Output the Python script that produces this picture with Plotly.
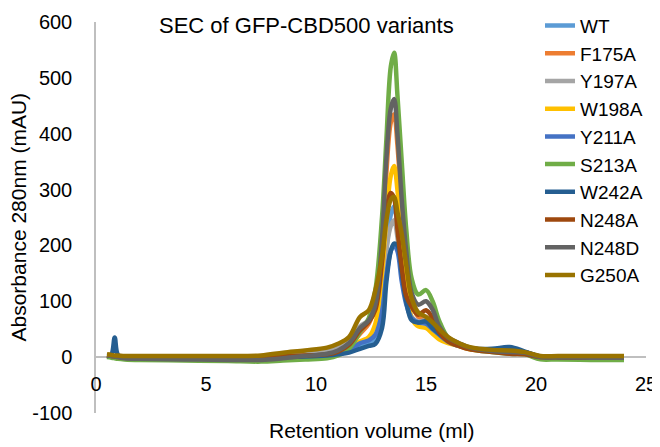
import plotly.graph_objects as go

# Retention volume (ml) sampling points shared by all series
x_ml = [0.5, 0.7, 0.85, 1.0, 1.3, 2, 4, 6, 7.5, 8.5, 9.5, 10.5, 11.0, 11.5, 12.0, 12.4, 12.7,
        13.0, 13.2, 13.4, 13.55, 13.7, 13.9, 14.1, 14.35, 14.65, 15.0, 15.3, 15.6, 16.0,
        16.5, 17.0, 18.0, 18.8, 19.5, 20.2, 21.0, 22.5, 24.0]

WT = [2, 1, 0, -1, -2, -2, -3, -3, -3, -1, 1, 4, 7, 11, 20, 25, 35, 110, 190, 255, 270, 235,
      160, 110, 70, 62, 60, 50, 40, 28, 20, 15, 12, 15, 9, 1, 0, -1, -1]
F175A = [3, 2, 1, 0, -1, -2, -3, -3, -2, 0, 3, 7, 11, 18, 42, 60, 95, 190, 330, 420, 435, 380,
         270, 180, 100, 72, 68, 55, 42, 30, 22, 15, 11, 9, 8, 0, 0, -1, -1]
Y197A = [3, 2, 1, 0, -1, -1, -1, -1, 0, 4, 8, 12, 17, 28, 55, 66, 85, 140, 195, 235, 245, 215,
         150, 110, 72, 64, 66, 55, 42, 30, 22, 16, 12, 10, 9, 1, 1, 0, 0]
W198A = [2, 1, 0, -1, -2, -2, -3, -3, -2, 0, 2, 5, 9, 15, 28, 36, 60, 150, 250, 325, 342, 300,
         200, 130, 70, 55, 52, 42, 32, 25, 20, 14, 11, 9, 8, 0, 0, -1, -1]
Y211A = [2, 1, 0, -1, -2, -2, -3, -3, -2, 0, 2, 5, 8, 12, 25, 30, 40, 80, 145, 190, 200, 190,
         135, 95, 70, 62, 60, 50, 40, 28, 20, 15, 12, 12, 9, 1, 0, -1, -1]
S213A = [0, -1, -2, -3, -4, -5, -6, -7, -8, -6, -4, -2, 3, 15, 45, 70, 120, 250, 390, 520, 545,
         470, 348, 230, 140, 112, 120, 100, 65, 35, 24, 15, 9, 6, 5, -4, -4, -5, -5]
W242A = [2, 5, 35, 4, 0, -1, -2, -2, -2, 0, 1, 3, 5, 8, 15, 20, 24, 52, 135, 190, 203, 200,
         150, 100, 66, 62, 64, 52, 42, 30, 22, 16, 15, 18, 10, 1, 0, -1, -1]
N248A = [3, 2, 1, 0, -1, -2, -2, -2, -1, 2, 3, 5, 10, 22, 48, 63, 85, 170, 260, 294, 285, 230,
         160, 110, 90, 76, 84, 70, 45, 28, 20, 14, 9, 6, 5, 0, 0, -1, -1]
N248D = [3, 2, 1, 0, -2, -3, -4, -5, -5, -2, 2, 6, 12, 25, 52, 66, 95, 210, 355, 445, 462, 400,
         280, 190, 115, 94, 100, 85, 55, 35, 25, 17, 11, 9, 8, 0, 0, -1, -1]
G250A = [5, 4, 3, 3, 2, 2, 2, 2, 3, 8, 12, 17, 24, 36, 72, 84, 120, 180, 245, 282, 287, 260,
         220, 165, 105, 80, 72, 62, 50, 36, 25, 18, 13, 12, 9, 2, 2, 2, 2]

names = ["WT", "F175A", "Y197A", "W198A", "Y211A", "S213A", "W242A", "N248A", "N248D", "G250A"]
values = [WT, F175A, Y197A, W198A, Y211A, S213A, W242A, N248A, N248D, G250A]
colors = ["#5B9BD5", "#ED7D31", "#A5A5A5", "#FFC000", "#4472C4", "#70AD47", "#255E91",
          "#9E480E", "#636363", "#997300"]

y_ticks = [-100, 0, 100, 200, 300, 400, 500, 600]
y_tick_text = ["-100", "0", "100", "200", "300", "400", "500", "600"]
x_ticks = [0, 5, 10, 15, 20, 25]

FONT = "Liberation Sans, Arial, sans-serif"

# The page body has an 8px default margin; the figure is sized so the plot area lands
# at x 96..646 and y 22..413 in the 660x447 window.
W, H = 652, 439
fig = go.Figure()
for n, v, c in zip(names, values, colors):
    fig.add_trace(go.Scatter(x=x_ml, y=v, mode="lines", name=n,
                             line=dict(color=c, width=4.5, shape="spline", smoothing=1.0)))

fig.update_layout(
    width=W, height=H,
    margin=dict(l=88, r=14, t=14, b=34, autoexpand=False),
    paper_bgcolor="white", plot_bgcolor="white",
    font=dict(family=FONT, size=20, color="#000000"),
    showlegend=True,
    legend=dict(x=(540 - 96) / 550, xanchor="left", y=1.039, yanchor="top",
                font=dict(size=19), bgcolor="rgba(0,0,0,0)", itemwidth=30,
                tracegroupgap=0, maxheight=1.0),
    xaxis=dict(range=[0, 25], tickvals=x_ticks, showgrid=False, zeroline=False,
               showline=True, linecolor="#BFBFBF", linewidth=1.5,
               anchor="free", position=1/7, layer="below traces", automargin=False,
               ticks="", ticklabelstandoff=9, tickfont=dict(size=20)),
    yaxis=dict(range=[-100, 600], tickvals=y_ticks, ticktext=y_tick_text, showgrid=False,
               zeroline=False, automargin=False,
               showline=True, linecolor="#BFBFBF", linewidth=1.5, layer="below traces",
               ticks="", ticklabelstandoff=18, tickfont=dict(size=20)),
    annotations=[
        dict(text="SEC of GFP-CBD500 variants", xref="paper", yref="paper",
             x=(306 - 96) / 550, y=(413 - 25) / 391, xanchor="center", yanchor="middle",
             showarrow=False, font=dict(size=22)),
        dict(text="Retention volume (ml)", xref="paper", yref="paper",
             x=0.5, y=-(431 - 413) / 391, xanchor="center", yanchor="middle",
             showarrow=False, font=dict(size=21)),
        dict(text="Absorbance 280nm (mAU)", xref="paper", yref="paper",
             x=(18 - 96) / 550, y=0.5, xanchor="center", yanchor="middle",
             textangle=-90, showarrow=False, font=dict(size=21)),
    ],
)

fig.write_html("out.html")
